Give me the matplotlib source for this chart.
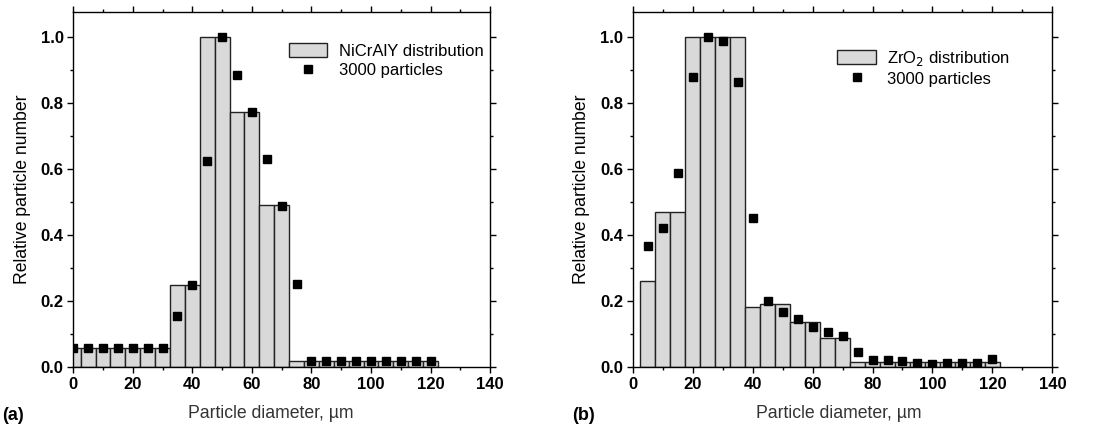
import numpy as np
import matplotlib
matplotlib.use("Agg")
import matplotlib.pyplot as plt
from matplotlib.ticker import MultipleLocator

plt.rcParams['font.family'] = ['Liberation Sans', 'DejaVu Sans']

# bin centres (um), bins are 5 um wide
centres = [0, 5, 10, 15, 20, 25, 30, 35, 40, 45, 50, 55, 60, 65, 70, 75,
           80, 85, 90, 95, 100, 105, 110, 115, 120]

# (a) NiCrAlY
nicraly_bins = [0.058, 0.058, 0.058, 0.058, 0.058, 0.058, 0.058, 0.25, 0.25,
                1.0, 1.0, 0.775, 0.775, 0.49, 0.49, 0.017, 0.017, 0.017,
                0.017, 0.017, 0.017, 0.017, 0.017, 0.017, 0.017]
nicraly_pts = [0.058, 0.058, 0.058, 0.058, 0.058, 0.058, 0.058, 0.155, 0.25,
               0.625, 1.0, 0.887, 0.773, 0.632, 0.488, 0.252, 0.017, 0.017,
               0.017, 0.017, 0.017, 0.017, 0.017, 0.017, 0.017]

# (b) ZrO2 (no bin at 0)
zro2_centres = centres[1:]
zro2_bins = [0.26, 0.47, 0.47, 1.0, 1.0, 1.0, 1.0, 0.183, 0.192, 0.192,
             0.135, 0.135, 0.088, 0.088, 0.015, 0.015, 0.015, 0.015, 0.015,
             0.015, 0.015, 0.015, 0.015, 0.015]
zro2_pts = [0.367, 0.422, 0.588, 0.88, 1.0, 0.99, 0.865, 0.452, 0.2, 0.168,
            0.147, 0.122, 0.105, 0.093, 0.045, 0.02, 0.02, 0.017, 0.013,
            0.01, 0.012, 0.012, 0.013, 0.023]

x_ticks = [0, 20, 40, 60, 80, 100, 120, 140]
y_ticks = [0.0, 0.2, 0.4, 0.6, 0.8, 1.0]

W, H = 1097, 434
fig = plt.figure(figsize=(W / 100, H / 100), dpi=100)
ax_a = fig.add_axes([0.0668, 0.1544, 0.380, 0.8187])
ax_b = fig.add_axes([0.5768, 0.1544, 0.3825, 0.8187])


def draw_panel(ax, x_bar, h_bar, x_pt, y_pt, label, tag, tag_x, xlab_x, leg_anchor):
    bars = ax.bar(x_bar, h_bar, width=5, color='#d9d9d9', edgecolor='#222222',
                  linewidth=1.0, zorder=2)
    pts, = ax.plot(x_pt, y_pt, 's', color='black', markersize=5.5, zorder=3)
    ax.set_xlim(0, 140)
    ax.set_ylim(0, 1.078)
    ax.set_xticks(x_ticks)
    ax.set_xticklabels([str(v) for v in x_ticks], fontweight='bold', fontsize=12)
    ax.set_yticks(y_ticks)
    ax.set_yticklabels([f"{v:.1f}" for v in y_ticks], fontweight='bold',
                       fontsize=12)
    ax.xaxis.set_minor_locator(MultipleLocator(10))
    ax.yaxis.set_minor_locator(MultipleLocator(0.1))
    ax.tick_params(which='both', direction='out', top=True, right=True,
                   labeltop=False, labelright=False, pad=3)
    ax.tick_params(which='major', length=4, width=1)
    ax.tick_params(which='minor', length=2.5, width=1)
    ax.set_xlabel('Particle diameter, µm', fontsize=12.7, color='#333333')
    ax.xaxis.set_label_coords(xlab_x, -0.108)
    ax.set_ylabel('Relative particle number', fontsize=12.7, labelpad=7)
    for s in ax.spines.values():
        s.set_linewidth(1.0)
    ax.legend([bars, pts], [label, '3000 particles'], loc='upper right',
              bbox_to_anchor=leg_anchor, frameon=False, fontsize=12,
              handlelength=2.3, handleheight=0.9, handletextpad=0.7,
              borderaxespad=0.0, labelspacing=0.2)
    fig.text(tag_x / W, 1 - 415 / H, tag, fontsize=13, fontweight='bold',
             va='center', ha='left')


draw_panel(ax_a, centres, nicraly_bins, centres, nicraly_pts,
           'NiCrAlY distribution', '(a)', 2, 0.474, (1.0, 0.93))
draw_panel(ax_b, zro2_centres, zro2_bins, zro2_centres, zro2_pts,
           r'ZrO$_2$ distribution', '(b)', 572, 0.492, (0.915, 0.915))

fig.savefig('out.png', dpi=100)
